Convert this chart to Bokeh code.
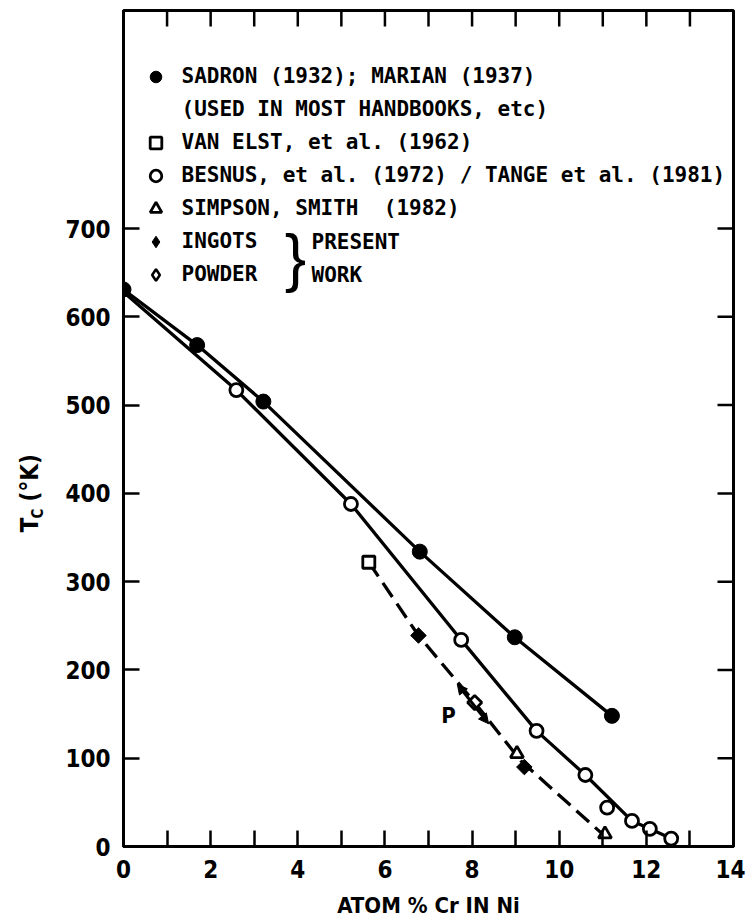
import numpy as np
from bokeh.plotting import figure
from bokeh.layouts import row
from bokeh.models import (Range1d, FixedTicker, Legend, LegendItem, Label, Arrow, NormalHead)
from bokeh.core.properties import value
from bokeh.embed import file_html
from bokeh.resources import INLINE

# ---------------- data ----------------
sadron_x = [0.0, 1.69, 3.21, 6.80, 8.98, 11.21]
sadron_y = [631, 568, 504, 334, 237, 148]

besnus_x = [2.59, 5.22, 7.75, 9.48, 10.60, 11.10, 11.67, 12.08, 12.57]
besnus_y = [517, 388, 234, 131, 81, 44, 29, 20, 9]
besnus_curve_x = [0.0, 2.59, 5.22, 7.75, 9.48, 10.60, 11.67, 12.08, 12.57]
besnus_curve_y = [628, 517, 388, 234, 131, 81, 29, 20, 9]

vanelst_x = [5.63]
vanelst_y = [322]

simpson_x = [9.03, 11.05]
simpson_y = [105, 14]

ingots_x = [6.77, 9.20]
ingots_y = [239, 90]

powder_x = [8.06]
powder_y = [163]

dashed_x = [5.63, 6.77, 8.06, 9.12, 10.95]
dashed_y = [322, 239, 163, 97, 16]

arrow_start = (7.66, 184)
arrow_end = (8.38, 139)
p_label_pos = (7.46, 148)

x_major = [0, 2, 4, 6, 8, 10, 12, 14]
x_minor = [1, 3, 5, 7, 9, 11, 13]
x_top_ticks = list(range(1, 14))
y_ticks = [0, 100, 200, 300, 400, 500, 600, 700]
y_right_ticks = [100, 200, 300, 400, 500, 600, 700]

X_MAX, Y_MAX = 14, 947

FONT = "DejaVu Sans Condensed"
LEG_FONT = "DejaVu Sans Mono"

# ---------------- layout sizes ----------------
LEFT_W = 62
W, H = 745 - LEFT_W, 923
B_LEFT, B_RIGHT, B_TOP, B_BOTTOM = 61, 12, 10, 77
FRAME_W = W - B_LEFT - B_RIGHT
FRAME_H = H - B_TOP - B_BOTTOM
TICK = 16

p = figure(width=W, height=H, x_range=Range1d(0, X_MAX), y_range=Range1d(0, Y_MAX),
           output_backend="svg", toolbar_location=None,
           min_border_left=B_LEFT, min_border_right=B_RIGHT, min_border_top=B_TOP,
           min_border_bottom=B_BOTTOM)
p.grid.visible = False
p.outline_line_color = "black"
p.outline_line_width = 3
p.background_fill_color = "white"
p.border_fill_color = "white"

def style_axis(ax):
    ax.axis_line_width = 3
    ax.axis_line_color = "black"
    ax.major_tick_in = TICK
    ax.major_tick_out = 0
    ax.minor_tick_in = TICK
    ax.minor_tick_out = 0
    ax.major_tick_line_width = 2.5
    ax.minor_tick_line_width = 2.5
    ax.major_tick_line_color = "black"
    ax.minor_tick_line_color = "black"
    ax.major_label_text_font = FONT
    ax.major_label_text_font_style = "bold"
    ax.major_label_text_font_size = "24px"
    ax.major_label_text_color = "black"

xa = p.xaxis[0]
xa.ticker = FixedTicker(ticks=x_major, minor_ticks=x_minor)
style_axis(xa)
xa.major_label_standoff = 13
xa.axis_label = "ATOM % Cr IN Ni"
xa.axis_label_text_font = FONT
xa.axis_label_text_font_style = "bold"
xa.axis_label_text_font_size = "22px"
xa.axis_label_text_color = "black"
xa.axis_label_standoff = 12

ya = p.yaxis[0]
ya.ticker = FixedTicker(ticks=y_ticks, minor_ticks=[])
style_axis(ya)
ya.major_label_standoff = 13

# inward ticks on the top and right edges (tick length converted to data units)
ty = TICK * Y_MAX / FRAME_H
tx = TICK * X_MAX / FRAME_W
p.segment(x0=x_top_ticks, x1=x_top_ticks, y0=[Y_MAX] * len(x_top_ticks),
          y1=[Y_MAX - ty] * len(x_top_ticks), line_width=2.5, color="black")
p.segment(x0=[X_MAX] * len(y_right_ticks), x1=[X_MAX - tx] * len(y_right_ticks),
          y0=y_right_ticks, y1=y_right_ticks, line_width=2.5, color="black")

# ---------------- curves ----------------
p.line(sadron_x, sadron_y, line_width=3.3, color="black")
p.line(besnus_curve_x, besnus_curve_y, line_width=3.3, color="black")
p.line(dashed_x, dashed_y, line_width=3.3, color="black", line_dash="17 8")

# ---------------- markers ----------------
r_sad = p.scatter(sadron_x, sadron_y, marker="circle", size=15, fill_color="black", line_color="black")
r_bes = p.scatter(besnus_x, besnus_y, marker="circle", size=13, fill_color="white",
                  line_color="black", line_width=2.8)
r_van = p.scatter(vanelst_x, vanelst_y, marker="square", size=12, fill_color="white",
                  line_color="black", line_width=2.8)
r_sim = p.scatter(simpson_x, simpson_y, marker="triangle", size=13, fill_color="white",
                  line_color="black", line_width=2.8)
p.scatter(ingots_x, ingots_y, marker="square", angle=np.pi / 4, size=11,
          fill_color="black", line_color="black")
p.scatter(powder_x, powder_y, marker="square", angle=np.pi / 4, size=10,
          fill_color="white", line_color="black", line_width=2.8)
# legend-only glyphs (hidden on the plot, shown in the key)
r_ing_leg = p.scatter(ingots_x, ingots_y, marker="diamond", size=14, fill_color="black",
                      line_color="black", visible=False)
r_pow_leg = p.scatter(powder_x, powder_y, marker="diamond", size=14, fill_color="white",
                      line_color="black", line_width=2.5, visible=False)
r_blank = p.scatter(powder_x, powder_y, marker="circle", size=1, fill_alpha=0,
                    line_alpha=0, visible=False)

p.add_layout(Arrow(x_start=arrow_start[0], y_start=arrow_start[1],
                   x_end=arrow_end[0], y_end=arrow_end[1],
                   start=NormalHead(size=10, fill_color="black", line_color="black"),
                   end=NormalHead(size=10, fill_color="black", line_color="black"),
                   line_width=3, line_color="black"))
p.add_layout(Label(x=p_label_pos[0], y=p_label_pos[1], text="P", text_font=FONT,
                   text_font_style="bold", text_font_size="22px", text_color="black",
                   text_align="center", text_baseline="middle"))

# ---------------- legend ----------------
items = [
    LegendItem(label="SADRON (1932); MARIAN (1937)", renderers=[r_sad]),
    LegendItem(label="(USED IN MOST HANDBOOKS, etc)", renderers=[r_blank]),
    LegendItem(label="VAN ELST, et al. (1962)", renderers=[r_van]),
    LegendItem(label="BESNUS, et al. (1972) / TANGE et al. (1981)", renderers=[r_bes]),
    LegendItem(label="SIMPSON, SMITH  (1982)", renderers=[r_sim]),
    LegendItem(label="INGOTS", renderers=[r_ing_leg]),
    LegendItem(label="POWDER", renderers=[r_pow_leg]),
]
leg = Legend(items=items, location=(17.5, 557.5), padding=0, margin=0, spacing=4,
             glyph_width=29, glyph_height=29, label_height=29, label_standoff=12,
             label_text_font=LEG_FONT, label_text_font_style="bold",
             label_text_font_size="21px", label_text_color="black",
             border_line_color=None, background_fill_alpha=0,
             inactive_fill_alpha=0, click_policy="none")
p.add_layout(leg)

p.add_layout(Label(x=172, y=589, x_units="screen", y_units="screen", text="}",
                   text_font="Liberation Sans", text_font_size="64px", text_color="black",
                   text_align="center", text_baseline="middle"))
p.add_layout(Label(x=188, y=605, x_units="screen", y_units="screen", text="PRESENT",
                   text_font=LEG_FONT, text_font_style="bold", text_font_size="21px",
                   text_color="black", text_baseline="middle"))
p.add_layout(Label(x=188, y=572, x_units="screen", y_units="screen", text="WORK",
                   text_font=LEG_FONT, text_font_style="bold", text_font_size="21px",
                   text_color="black", text_baseline="middle"))

# ---------------- left strip holding the y-axis title T_c (°K) ----------------
q = figure(width=LEFT_W, height=H, x_range=Range1d(0, LEFT_W), y_range=Range1d(0, H),
           x_axis_type=None, y_axis_type=None, output_backend="svg",
           toolbar_location=None, min_border=0)
q.grid.visible = False
q.outline_line_color = None
q.background_fill_color = "white"
q.border_fill_color = "white"
q.text(x=[29], y=[H - 576], text=["T"], angle=np.pi / 2, text_font=value(FONT),
       text_font_style="bold", text_font_size="24px", text_color="black",
       text_align="left", text_baseline="middle")
q.text(x=[37], y=[H - 561], text=["C"], angle=np.pi / 2, text_font=value(FONT),
       text_font_style="bold", text_font_size="15px", text_color="black",
       text_align="left", text_baseline="middle")
q.text(x=[29], y=[H - 542], text=["(°K)"], angle=np.pi / 2, text_font=value(FONT),
       text_font_style="bold", text_font_size="24px", text_color="black",
       text_align="left", text_baseline="middle")

layout = row(q, p, spacing=0)
open("out.html", "w").write(file_html(layout, INLINE))
